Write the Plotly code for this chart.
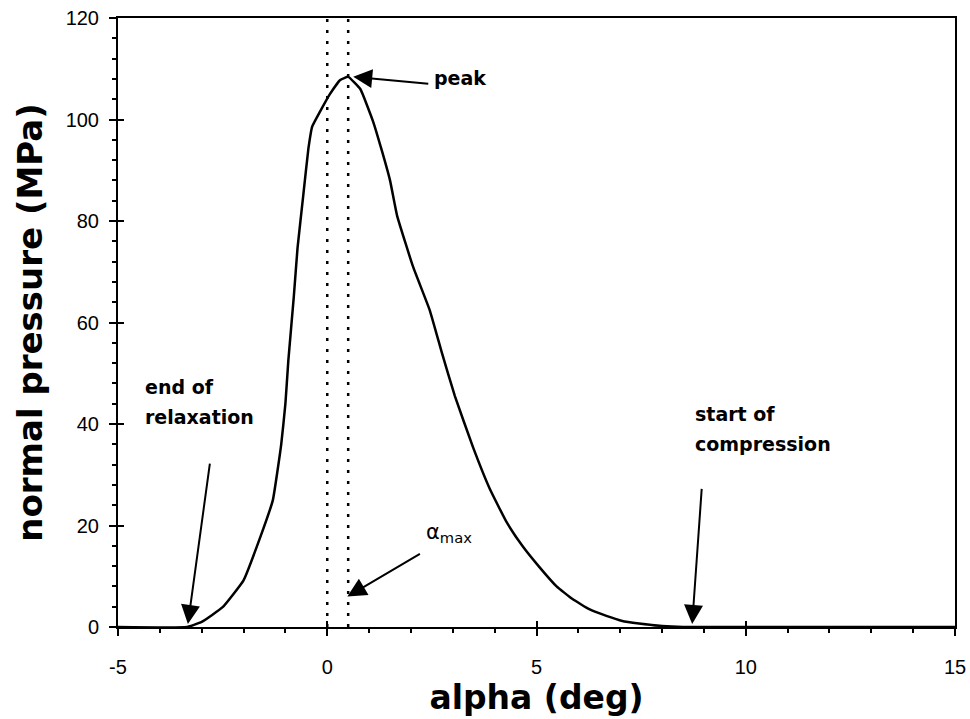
import plotly.graph_objects as go

# ---- data ----
alpha = [-5, -3.35, -3.0, -2.5, -2.0, -1.6, -1.3, -1.1, -1.0, -0.93, -0.8, -0.71,
         -0.57, -0.45, -0.36, -0.17, 0.07, 0.31, 0.5, 0.79, 1.1, 1.3, 1.5, 1.67,
         2.05, 2.45, 2.74, 3.05, 3.48, 3.88, 4.29, 4.67, 5.07, 5.48, 5.86, 6.26,
         6.67, 7.05, 7.45, 8.0, 8.5, 15]
pressure = [0, 0, 1.0, 3.9, 9.2, 17.7, 25, 36, 44, 52.5, 65, 74.7,
            85.3, 94.3, 98.6, 101.6, 105.1, 107.8, 108.4, 106, 99.5, 94, 88, 81,
            71, 62.4, 54, 45.5, 35.5, 27.3, 20.6, 15.9, 11.8, 8.0, 5.5, 3.5,
            2.2, 1.2, 0.7, 0.2, 0, 0]
alpha_marks = [0.0, 0.5]          # dotted vertical lines (alpha_max bounds)
x_range = [-5, 15]
y_range = [0, 120]
x_ticks = [-5, 0, 5, 10, 15]
x_ticktext = ["-5", "0", "5", "10", "15"]
y_ticks = [0, 20, 40, 60, 80, 100, 120]

BLACK = "black"
TICKFONT = dict(family="Liberation Sans, Arial, sans-serif", size=20, color=BLACK)
XTITLEFONT = dict(family="DejaVu Sans, sans-serif", size=33, color=BLACK, weight="bold")
YTITLEFONT = dict(family="DejaVu Sans, sans-serif", size=34, color=BLACK, weight="bold")
ANNFONT = dict(family="DejaVu Sans, sans-serif", size=19, color=BLACK, weight="bold")

fig = go.Figure()

# dotted vertical lines
for xm in alpha_marks:
    fig.add_trace(go.Scatter(x=[xm, xm], y=y_range, mode="lines",
                             line=dict(color=BLACK, width=2.5, dash="3px,8px"),
                             hoverinfo="skip", showlegend=False))

# pressure curve
fig.add_trace(go.Scatter(x=alpha, y=pressure, mode="lines",
                         line=dict(color=BLACK, width=2.5, shape="spline", smoothing=0.35),
                         showlegend=False))

# helper (invisible) trace so the overlay axes with inward major ticks render
fig.add_trace(go.Scatter(x=alpha, y=pressure, xaxis="x2", yaxis="y2", mode="lines",
                         line=dict(color="rgba(0,0,0,0)", width=0),
                         hoverinfo="skip", showlegend=False))

axis_common = dict(showgrid=False, zeroline=False, showline=True, automargin=False,
                   linecolor=BLACK, linewidth=2, tickcolor=BLACK, tickwidth=2)

fig.update_layout(
    width=970, height=719,
    margin=dict(l=118, r=15, t=18, b=92),
    paper_bgcolor="white", plot_bgcolor="white",
    xaxis=dict(range=x_range, tickmode="array", tickvals=x_ticks, ticktext=x_ticktext,
               ticks="outside", ticklen=7, mirror=True,
               minor=dict(dtick=1, ticks="outside", ticklen=4, tickwidth=2, tickcolor=BLACK),
               tickfont=TICKFONT, ticklabelstandoff=14,
               title=dict(text="alpha (deg)", font=XTITLEFONT, standoff=7),
               **axis_common),
    yaxis=dict(range=y_range, tickmode="array", tickvals=y_ticks,
               ticks="outside", ticklen=7, mirror=True,
               minor=dict(dtick=4, ticks="outside", ticklen=4, tickwidth=2, tickcolor=BLACK),
               tickfont=TICKFONT, ticklabelstandoff=6,
               title=dict(text="normal pressure (MPa)", font=YTITLEFONT, standoff=13),
               **axis_common),
    xaxis2=dict(range=x_range, overlaying="x", anchor="y2", tickmode="array",
                tickvals=x_ticks, ticks="inside", ticklen=6, tickwidth=2,
                tickcolor=BLACK, showticklabels=False, showgrid=False, automargin=False,
                zeroline=False, showline=False, side="bottom"),
    yaxis2=dict(range=y_range, overlaying="y", anchor="x2", tickmode="array",
                tickvals=y_ticks, ticks="inside", ticklen=6, tickwidth=2,
                tickcolor=BLACK, showticklabels=False, showgrid=False, automargin=False,
                zeroline=False, showline=False, side="left"),
)

# arrows (head x,y ; tail ax,ay in data coordinates)
arrows = [
    dict(x=0.62, y=108.4, ax=2.45, ay=107.0),   # peak
    dict(x=-3.33, y=0.6, ax=-2.8, ay=32.5),     # end of relaxation
    dict(x=0.48, y=6.0, ax=2.25, ay=14.6),      # alpha max
    dict(x=8.72, y=0.6, ax=8.95, ay=27.5),      # start of compression
]
for a in arrows:
    fig.add_annotation(x=a["x"], y=a["y"], ax=a["ax"], ay=a["ay"],
                       xref="x", yref="y", axref="x", ayref="y",
                       text="", showarrow=True, arrowhead=2, arrowsize=1.9,
                       arrowwidth=2, arrowcolor=BLACK, standoff=0, startstandoff=0)

labels = [
    dict(x=2.5, y=108.2, text="peak"),
    dict(x=-4.4, y=47.3, text="end of"),
    dict(x=-4.4, y=41.4, text="relaxation"),
    dict(x=8.74, y=42.0, text="start of"),
    dict(x=8.74, y=36.1, text="compression"),
]
for lb in labels:
    fig.add_annotation(x=lb["x"], y=lb["y"], text=lb["text"], xref="x", yref="y",
                       showarrow=False, xanchor="left", yanchor="middle", font=ANNFONT)

fig.add_annotation(x=2.3, y=18.6, text="α<sub>max</sub>", xref="x", yref="y",
                   showarrow=False, xanchor="left", yanchor="middle",
                   font=dict(family="DejaVu Sans, sans-serif", size=21, color=BLACK))

fig.write_html("out.html")
